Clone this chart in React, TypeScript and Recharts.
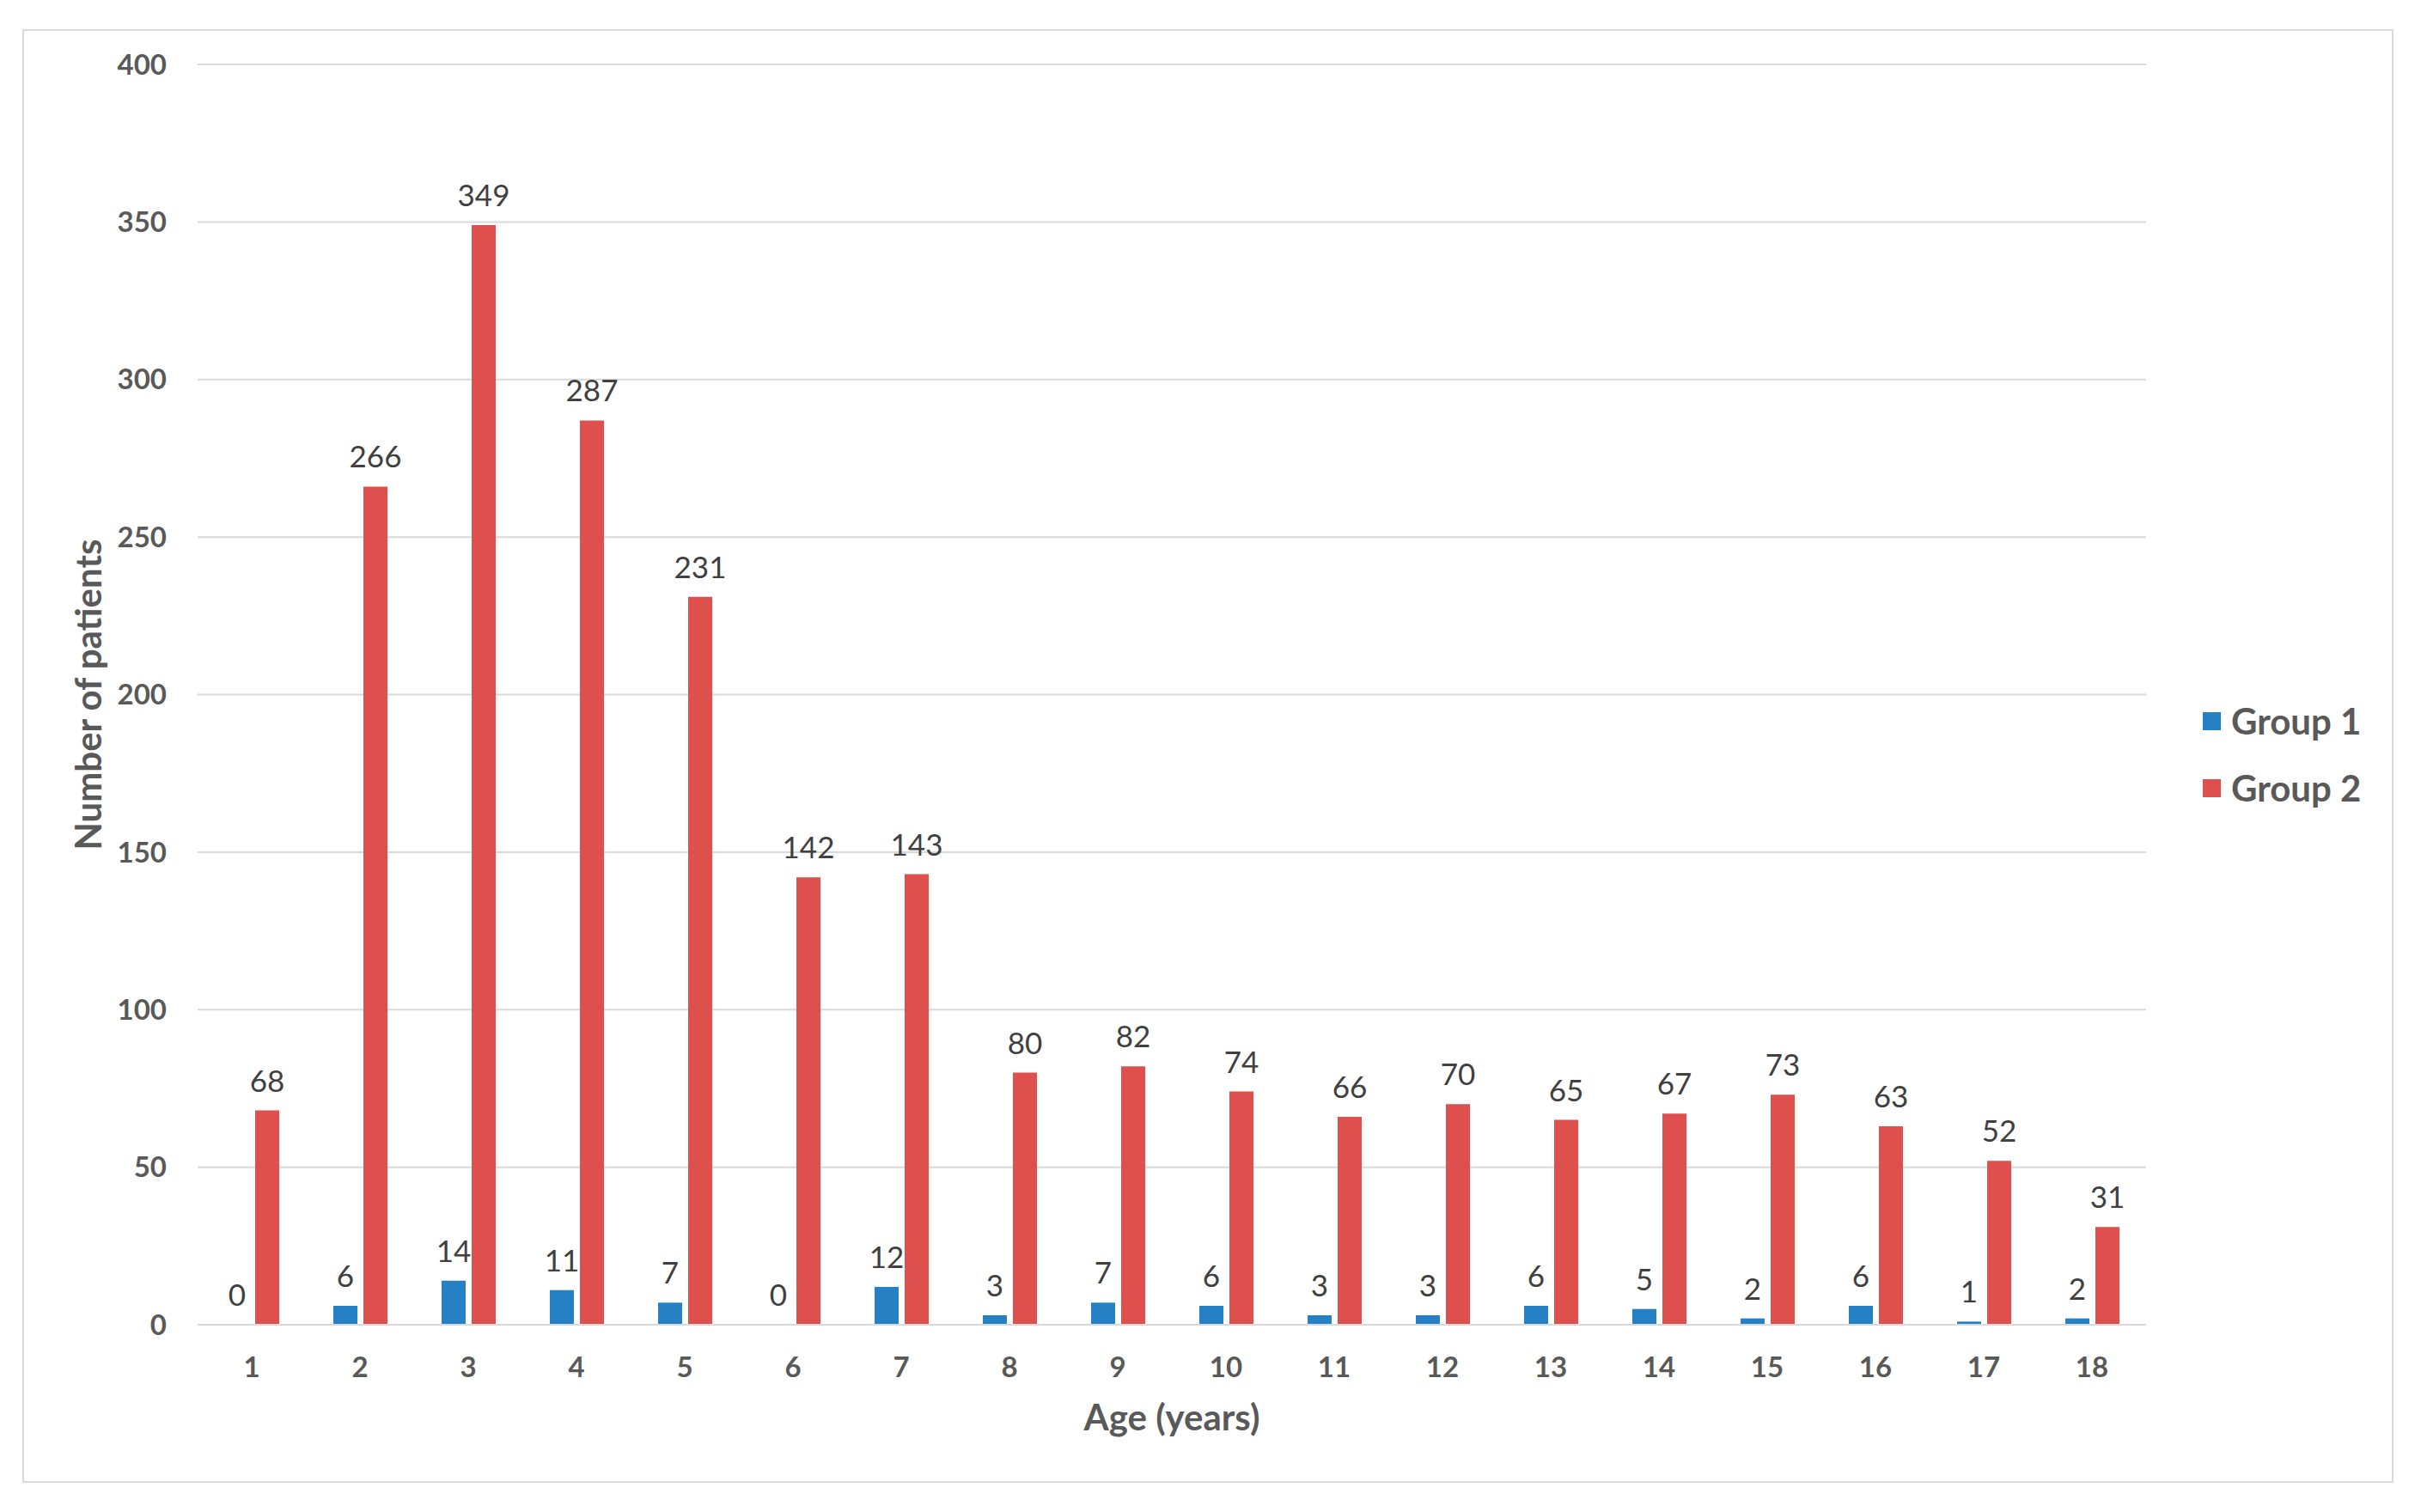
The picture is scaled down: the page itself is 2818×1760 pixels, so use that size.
import React from 'react';
import { BarChart, Bar, XAxis, YAxis, CartesianGrid, Legend, LabelList, Label } from 'recharts';

const ages = ['1', '2', '3', '4', '5', '6', '7', '8', '9', '10', '11', '12', '13', '14', '15', '16', '17', '18'];
const group1 = [0, 6, 14, 11, 7, 0, 12, 3, 7, 6, 3, 3, 6, 5, 2, 6, 1, 2];
const group2 = [68, 266, 349, 287, 231, 142, 143, 80, 82, 74, 66, 70, 65, 67, 73, 63, 52, 31];
const yTicks = [0, 50, 100, 150, 200, 250, 300, 350, 400];

const data = ages.map((age, i) => ({ age, g1: group1[i], g2: group2[i] }));

const FONT = 'Lato, "Open Sans", sans-serif';
const BLUE = '#2681C4';
const RED = '#DD504E';
const GRID = '#D9D9D9';
const TICK = '#595959';

const LegendBox = (props: any) => {
  const { payload } = props;
  return (
    <div style={{ fontFamily: FONT }}>
      {(payload || []).map((p: any) => (
        <div key={p.value} style={{ display: 'flex', alignItems: 'center', height: 78 }}>
          <span style={{ width: 21, height: 21, background: p.color, marginRight: 12 }} />
          <span style={{ fontSize: 42, fontWeight: 700, color: TICK }}>{p.value}</span>
        </div>
      ))}
    </div>
  );
};

const App: React.FC = () => {
  return (
    <div style={{ position: 'absolute', left: 0, top: 0, width: 2818, height: 1760, background: '#fff' }}>
      <div
        style={{
          position: 'absolute',
          left: 26,
          top: 34,
          width: 2756,
          height: 1688,
          border: `2px solid ${GRID}`,
        }}
      />
      <div style={{ position: 'absolute', left: 0, top: 0 }}>
        <BarChart
          width={2818}
          height={1760}
          data={data}
          margin={{ top: 75, left: 130, right: 60, bottom: 168 }}
          barGap={7}
          barSize={28}
        >
          <CartesianGrid vertical={false} stroke={GRID} strokeWidth={2} />
          <XAxis
            dataKey="age"
            axisLine={{ stroke: GRID, strokeWidth: 2 }}
            tickLine={false}
            height={50}
            tickMargin={32}
            tick={{ fill: TICK, fontSize: 33, fontWeight: 700, fontFamily: FONT }}
          >
            <Label
              content={(p: any) => {
                const vb = p.viewBox || {};
                return (
                  <text
                    x={vb.x + vb.width / 2}
                    y={vb.y + 123}
                    textAnchor="middle"
                    fill={TICK}
                    fontSize={42}
                    fontWeight={700}
                    fontFamily={FONT}
                  >
                    Age (years)
                  </text>
                );
              }}
            />
          </XAxis>
          <YAxis
            width={100}
            domain={[0, 400]}
            ticks={yTicks}
            axisLine={false}
            tickLine={false}
            tickMargin={30}
            tick={{ fill: TICK, fontSize: 33, fontWeight: 700, fontFamily: FONT }}
          >
            <Label
              content={(p: any) => {
                const vb = p.viewBox || {};
                const cx = vb.x - 28;
                const cy = vb.y + vb.height / 2;
                return (
                  <text
                    x={cx}
                    y={cy}
                    transform={`rotate(-90, ${cx}, ${cy})`}
                    textAnchor="middle"
                    dominantBaseline="central"
                    fill={TICK}
                    fontSize={42}
                    fontWeight={700}
                    fontFamily={FONT}
                  >
                    Number of patients
                  </text>
                );
              }}
            />
          </YAxis>
          <Legend
            layout="vertical"
            verticalAlign="top"
            align="right"
            wrapperStyle={{ left: 2564, top: 800, width: 260 }}
            content={<LegendBox />}
          />
          <Bar dataKey="g1" name="Group 1" fill={BLUE} minPointSize={0.01} isAnimationActive={false}>
            <LabelList dataKey="g1" position="top" offset={22} fill="#404040" fontSize={35} fontFamily={FONT} />
          </Bar>
          <Bar dataKey="g2" name="Group 2" fill={RED} isAnimationActive={false}>
            <LabelList dataKey="g2" position="top" offset={22} fill="#404040" fontSize={35} fontFamily={FONT} />
          </Bar>
        </BarChart>
      </div>
    </div>
  );
};

export default App;
